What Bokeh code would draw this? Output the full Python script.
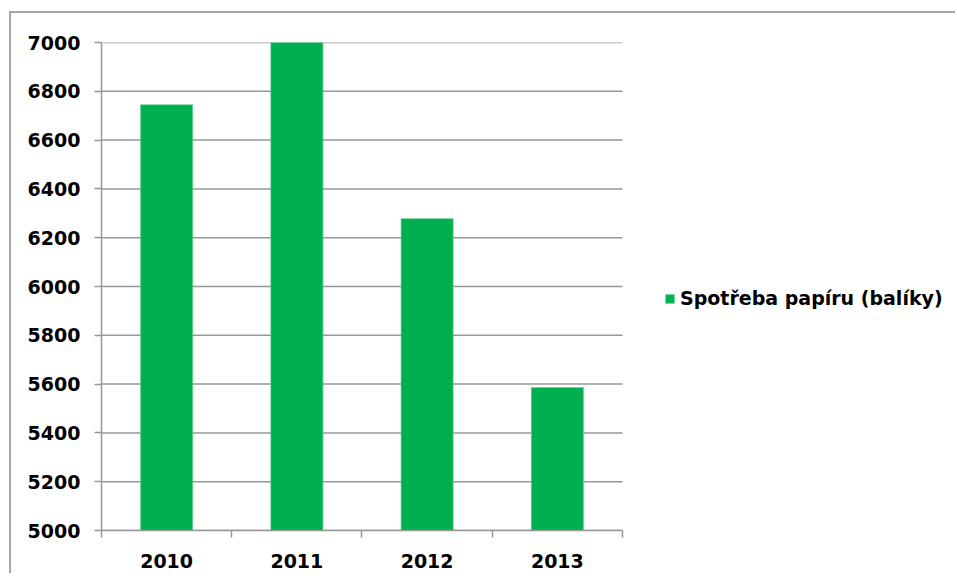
from bokeh.plotting import figure
from bokeh.models import Range1d, FixedTicker, Legend, LegendItem
from bokeh.embed import file_html
from bokeh.resources import INLINE

years = ["2010", "2011", "2012", "2013"]
values = [6745, 7000, 6278, 5586]
series_name = "Spotřeba papíru (balíky)"
y_ticks = [5000, 5200, 5400, 5600, 5800, 6000, 6200, 6400, 6600, 6800, 7000]

GREEN = "#00B050"
GRID = "#979797"
FONT = "DejaVu Sans"

n = len(years)
x_pos = [i + 0.5 for i in range(n)]
bounds = [i for i in range(n + 1)]

p = figure(width=946, height=562, output_backend="svg", toolbar_location=None,
           x_range=Range1d(0, 6.572), y_range=Range1d(y_ticks[0], y_ticks[-1]),
           min_border_left=90, min_border_right=0, min_border_top=29, min_border_bottom=45)
p.styles = {"margin-top": "13px", "margin-left": "11px",
            "box-shadow": "-2px -2px 0px 0px #a6a6a6"}
p.outline_line_color = None
p.background_fill_color = None
p.border_fill_color = None

# horizontal gridlines limited to the category span
p.segment(x0=0, x1=n, y0=y_ticks, y1=y_ticks, line_color=GRID, line_width=1.5)

r = p.vbar(x=x_pos, top=values, bottom=y_ticks[0], width=0.4,
           fill_color=GREEN, line_color="#5fcf8c", line_width=0.6)

# x axis
p.xaxis.bounds = (0, n)
p.xaxis.ticker = FixedTicker(ticks=x_pos, minor_ticks=bounds)
p.xaxis.major_label_overrides = {x: y for x, y in zip(x_pos, years)}
p.xaxis.major_tick_line_color = None
p.xaxis.major_tick_out = 0
p.xaxis.major_tick_in = 0
p.xaxis.minor_tick_line_color = GRID
p.xaxis.minor_tick_line_width = 1.5
p.xaxis.minor_tick_out = 7
p.xaxis.minor_tick_in = 0
p.xaxis.axis_line_color = GRID
p.xaxis.axis_line_width = 1.5
p.xaxis.major_label_text_font = FONT
p.xaxis.major_label_text_font_style = "bold"
p.xaxis.major_label_text_font_size = "19px"
p.xaxis.major_label_text_color = "black"
p.xaxis.major_label_standoff = 16

# y axis
p.yaxis.ticker = FixedTicker(ticks=y_ticks, minor_ticks=[])
p.yaxis.major_tick_line_color = GRID
p.yaxis.major_tick_line_width = 1.5
p.yaxis.major_tick_out = 7
p.yaxis.major_tick_in = 0
p.yaxis.minor_tick_line_color = None
p.yaxis.axis_line_color = GRID
p.yaxis.axis_line_width = 1.5
p.yaxis.major_label_text_font = FONT
p.yaxis.major_label_text_font_style = "bold"
p.yaxis.major_label_text_font_size = "19px"
p.yaxis.major_label_text_color = "black"
p.yaxis.major_label_standoff = 14

p.xgrid.grid_line_color = None
p.ygrid.grid_line_color = None

legend = Legend(items=[LegendItem(label=series_name, renderers=[r])],
                location=(563, 221), orientation="vertical",
                glyph_width=11, glyph_height=11, label_standoff=5,
                label_height=19, padding=0, margin=0, spacing=0,
                border_line_color=None, background_fill_alpha=0,
                label_text_font=FONT, label_text_font_style="bold",
                label_text_font_size="19px", label_text_color="black")
p.add_layout(legend)

open("out.html", "w").write(file_html(p, INLINE))
